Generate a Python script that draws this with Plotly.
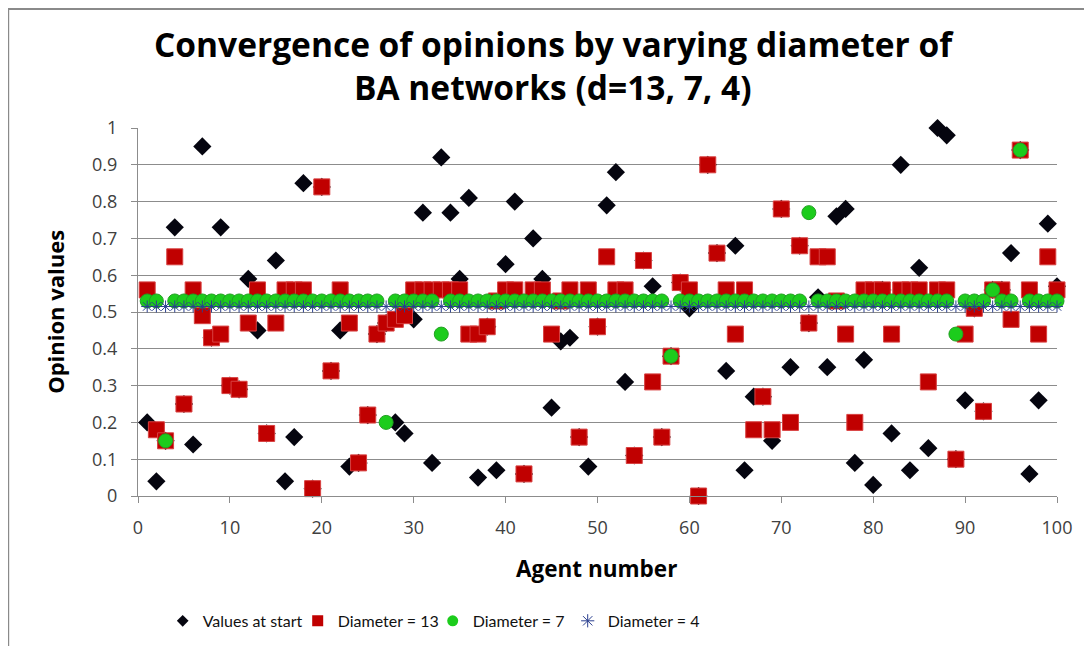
import plotly.graph_objects as go

agents = list(range(1, 101))

values_at_start = [
    0.20, 0.04, 0.15, 0.73, 0.25, 0.14, 0.95, 0.43, 0.73, 0.30,
    0.29, 0.59, 0.45, 0.17, 0.64, 0.04, 0.16, 0.85, 0.02, 0.84,
    0.34, 0.45, 0.08, 0.09, 0.22, 0.44, 0.47, 0.20, 0.17, 0.48,
    0.77, 0.09, 0.92, 0.77, 0.59, 0.81, 0.05, 0.46, 0.07, 0.63,
    0.80, 0.06, 0.70, 0.59, 0.24, 0.42, 0.43, 0.16, 0.08, 0.46,
    0.79, 0.88, 0.31, 0.11, 0.64, 0.57, 0.16, 0.38, 0.58, 0.51,
    0.00, 0.90, 0.66, 0.34, 0.68, 0.07, 0.27, 0.27, 0.15, 0.78,
    0.35, 0.68, 0.47, 0.54, 0.35, 0.76, 0.78, 0.09, 0.37, 0.03,
    0.56, 0.17, 0.90, 0.07, 0.62, 0.13, 1.00, 0.98, 0.10, 0.26,
    0.51, 0.23, 0.56, 0.56, 0.66, 0.94, 0.06, 0.26, 0.74, 0.57,
]

diameter_13 = [
    0.56, 0.18, 0.15, 0.65, 0.25, 0.56, 0.49, 0.43, 0.44, 0.30,
    0.29, 0.47, 0.56, 0.17, 0.47, 0.56, 0.56, 0.56, 0.02, 0.84,
    0.34, 0.56, 0.47, 0.09, 0.22, 0.44, 0.47, 0.48, 0.49, 0.56,
    0.56, 0.56, 0.56, 0.56, 0.56, 0.44, 0.44, 0.46, 0.53, 0.56,
    0.56, 0.06, 0.56, 0.56, 0.44, 0.53, 0.56, 0.16, 0.56, 0.46,
    0.65, 0.56, 0.56, 0.11, 0.64, 0.31, 0.16, 0.38, 0.58, 0.56,
    0.00, 0.90, 0.66, 0.56, 0.44, 0.56, 0.18, 0.27, 0.18, 0.78,
    0.20, 0.68, 0.47, 0.65, 0.65, 0.53, 0.44, 0.20, 0.56, 0.56,
    0.56, 0.44, 0.56, 0.56, 0.56, 0.31, 0.56, 0.56, 0.10, 0.44,
    0.51, 0.23, 0.56, 0.56, 0.48, 0.94, 0.56, 0.44, 0.65, 0.56,
]

diameter_7 = [0.53] * 100
for a, v in [(3, 0.15), (27, 0.20), (33, 0.44), (58, 0.38), (73, 0.77),
             (89, 0.44), (93, 0.56), (96, 0.94)]:
    diameter_7[a - 1] = v

diameter_4 = [0.515] * 100

x_ticks = list(range(0, 101, 10))
y_ticks = [round(i * 0.1, 1) for i in range(11)]
y_tick_text = ["0"] + [f"{v:.1f}" for v in y_ticks[1:-1]] + ["1"]

series_names = ["Values at start", "Diameter = 13", "Diameter = 7", "Diameter = 4"]

FONT = "Open Sans"
LFONT = "Lato"
GRID = "#8c8c8c"

styles = [
    dict(symbol="diamond", size=14, color="#05050f", line=dict(width=0)),
    dict(symbol="square", size=16, color="#c00000", line=dict(width=1, color="#d84040")),
    dict(symbol="circle", size=14, color="#1ccc1c", line=dict(width=1, color="#22a022")),
    dict(symbol="asterisk-open", size=10, color="#2a3f8f", line=dict(width=1, color="#2a3f8f")),
]
legend_styles = [
    dict(symbol="diamond", size=9, color="#05050f", line=dict(width=0)),
    dict(symbol="square", size=11, color="#c00000", line=dict(width=0)),
    dict(symbol="circle", size=11, color="#1ccc1c", line=dict(width=0)),
    dict(symbol="asterisk-open", size=11, color="#2a3f8f", line=dict(width=1, color="#2a3f8f")),
]

fig = go.Figure()
for name, ys, st in zip(series_names, [values_at_start, diameter_13, diameter_7, diameter_4], styles):
    fig.add_trace(go.Scatter(x=agents, y=ys, mode="markers", name=name, marker=st,
                             showlegend=False, cliponaxis=False, legendgroup=name))
for name, st in zip(series_names, legend_styles):
    fig.add_trace(go.Scatter(x=[None], y=[None], mode="markers", name=name, marker=st,
                             showlegend=True, legendgroup=name))

# page body has an 8px margin; work in screen pixels and shift
OFF = 8
W, H = 1092 - OFF, 646 - OFF
L, T = 138.3 - OFF, 127.7 - OFF
R = W - (1057.3 - OFF)
B = H - (496 - OFF)
pw, ph = W - L - R, H - T - B

def px_x(p):
    return (p - OFF - L) / pw

def px_y(p):
    return (H - B - (p - OFF)) / ph

annotations = [
    dict(text="<b>Convergence of opinions by varying diameter of</b>",
         x=px_x(554), y=px_y(44), font=dict(family=FONT, size=33.5, color="#000000")),
    dict(text="<b>BA networks (d=13, 7, 4)</b>",
         x=px_x(553), y=px_y(87), font=dict(family=FONT, size=33.5, color="#000000")),
    dict(text="<b>Agent number</b>",
         x=px_x(597), y=px_y(569), font=dict(family=FONT, size=22.5, color="#000000")),
    dict(text="<b>Opinion values</b>", textangle=-90,
         x=px_x(55), y=px_y(312), font=dict(family=FONT, size=22, color="#000000")),
]
for a in annotations:
    a.update(xref="paper", yref="paper", xanchor="center", yanchor="middle", showarrow=False)

fig.update_layout(
    template="none",
    width=W, height=H,
    margin=dict(l=L, r=R, t=T, b=B, autoexpand=False),
    paper_bgcolor="white", plot_bgcolor="white",
    font=dict(family=FONT, color="#222222"),
    xaxis=dict(
        range=[0, 100], tickvals=x_ticks, ticktext=[str(v) for v in x_ticks],
        showgrid=False, zeroline=False, showline=True, linecolor=GRID, linewidth=1,
        ticks="outside", ticklen=6, tickcolor=GRID, automargin=False,
        ticklabelstandoff=9,
        tickfont=dict(family=FONT, size=18, color="#404040")),
    yaxis=dict(
        range=[0, 1], tickvals=y_ticks, ticktext=y_tick_text,
        showgrid=True, gridcolor=GRID, gridwidth=1, zeroline=False,
        showline=True, linecolor=GRID, linewidth=1, automargin=False,
        ticks="outside", ticklen=6, tickcolor=GRID, ticklabelstandoff=10,
        tickfont=dict(family=FONT, size=18, color="#404040")),
    legend=dict(
        orientation="h", x=px_x(163), xanchor="left", y=px_y(621), yanchor="middle",
        font=dict(family=LFONT, size=16, color="#111111"),
        itemwidth=30, tracegroupgap=0, bgcolor="rgba(0,0,0,0)", borderwidth=0,
        entrywidthmode="pixels", entrywidth=90),
    showlegend=True,
    annotations=annotations,
    shapes=[
        dict(type="line", xref="paper", yref="paper",
             x0=px_x(OFF), x1=px_x(OFF), y0=px_y(OFF), y1=px_y(H + OFF + 5),
             line=dict(color="#8a8a8a", width=3)),
        dict(type="line", xref="paper", yref="paper",
             x0=px_x(OFF), x1=px_x(W + OFF + 5), y0=px_y(OFF), y1=px_y(OFF),
             line=dict(color="#8a8a8a", width=3)),
    ],
)

fig.write_html("out.html")
